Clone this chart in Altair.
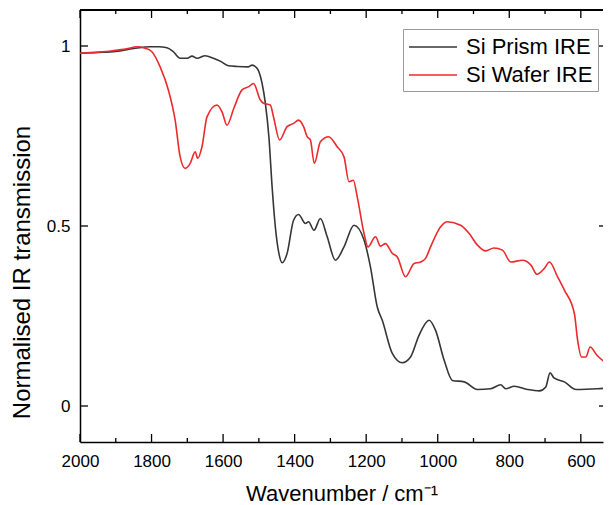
import altair as alt
import pandas as pd

# ---- data ----
prism_wn = [2000, 1950, 1900, 1850, 1804, 1780, 1757, 1740, 1720, 1700, 1687, 1673, 1650, 1627, 1608,
            1585, 1560, 1529, 1519, 1505, 1491, 1482, 1472, 1463, 1454, 1444, 1435, 1421, 1403, 1389,
            1370, 1361, 1346, 1328, 1309, 1286, 1262, 1234, 1206, 1188, 1169, 1155, 1127, 1099, 1076,
            1052, 1024, 1006, 982, 959, 926, 889, 852, 824, 810, 786, 749, 716, 698, 686,
            675, 646, 613, 553, 512]
prism_v = [0.980, 0.982, 0.985, 0.993, 0.998, 0.998, 0.995, 0.985, 0.966, 0.966, 0.972, 0.966, 0.973, 0.966, 0.958,
           0.945, 0.943, 0.942, 0.947, 0.938, 0.896, 0.842, 0.748, 0.609, 0.498, 0.424, 0.398, 0.424, 0.516, 0.532,
           0.507, 0.512, 0.488, 0.521, 0.470, 0.405, 0.442, 0.502, 0.461, 0.386, 0.275, 0.238, 0.146, 0.120, 0.136,
           0.197, 0.238, 0.210, 0.127, 0.071, 0.067, 0.046, 0.048, 0.059, 0.048, 0.055, 0.046, 0.042, 0.053, 0.092,
           0.078, 0.067, 0.046, 0.048, 0.051]

wafer_wn = [2000, 1950, 1907, 1870, 1841, 1818, 1799, 1776, 1753, 1734, 1720, 1706, 1692, 1678, 1671,
            1659, 1645, 1617, 1603, 1589, 1570, 1547, 1528, 1515, 1496, 1487, 1468, 1459, 1442, 1421,
            1403, 1389, 1375, 1365, 1356, 1345, 1328, 1305, 1281, 1262, 1248, 1236, 1225, 1206, 1195,
            1174, 1160, 1146, 1127, 1113, 1090, 1066, 1048, 1034, 1020, 992, 973, 936, 912, 889,
            866, 843, 819, 796, 763, 739, 723, 702, 688, 665, 646, 618, 609, 598, 586,
            574, 555, 536, 512]
wafer_v = [0.980, 0.983, 0.987, 0.992, 0.998, 0.994, 0.984, 0.942, 0.878, 0.794, 0.692, 0.660, 0.674, 0.706, 0.688,
           0.720, 0.803, 0.836, 0.817, 0.780, 0.827, 0.878, 0.887, 0.896, 0.850, 0.841, 0.836, 0.803, 0.739, 0.776,
           0.785, 0.794, 0.776, 0.748, 0.739, 0.674, 0.734, 0.748, 0.720, 0.692, 0.623, 0.627, 0.581, 0.479, 0.442,
           0.470, 0.444, 0.451, 0.424, 0.414, 0.359, 0.396, 0.400, 0.410, 0.442, 0.498, 0.512, 0.502, 0.479, 0.447,
           0.431, 0.439, 0.433, 0.400, 0.405, 0.391, 0.366, 0.382, 0.400, 0.359, 0.322, 0.257, 0.183, 0.136, 0.136,
           0.164, 0.141, 0.124, 0.107]

series_names = ["Si Prism IRE", "Si Wafer IRE"]
series_colors = ["#363636", "#ec2a2d"]

x_major = [2000, 1800, 1600, 1400, 1200, 1000, 800, 600]
x_minor = [1900, 1700, 1500, 1300, 1100, 900, 700]
y_major = [0, 0.5, 1]

x_domain = [538, 2000]
y_domain = [-0.1, 1.1]

W = 523
H = 432
FONT = "Liberation Sans"

df = pd.concat([
    pd.DataFrame({"wn": prism_wn, "val": prism_v, "series": series_names[0]}),
    pd.DataFrame({"wn": wafer_wn, "val": wafer_v, "series": series_names[1]}),
])

xs = alt.Scale(domain=x_domain, reverse=True, nice=False, zero=False)
ys = alt.Scale(domain=y_domain, nice=False, zero=False)

x_axis = alt.Axis(values=x_major, format="d", title="Wavenumber / cm⁻¹",
                  ticks=False, labelPadding=24, labelBaseline="alphabetic",
                  labelFlush=False, grid=False,
                  titleFontSize=22, titleY=58, titleBaseline="alphabetic")
y_axis = alt.Axis(values=y_major, format="~g", title="Normalised IR transmission",
                  ticks=False, labelPadding=10, grid=False,
                  titleFontSize=24, titleX=-51, titleY=262, titleAngle=270,
                  titleBaseline="alphabetic", titleAlign="center")

lines = alt.Chart(df).mark_line(strokeWidth=1.6, clip=True, interpolate="monotone").encode(
    x=alt.X("wn:Q", scale=xs, axis=x_axis),
    y=alt.Y("val:Q", scale=ys, axis=y_axis),
    color=alt.Color("series:N",
                    scale=alt.Scale(domain=series_names, range=series_colors),
                    legend=alt.Legend(title=None, orient="none", legendX=323, legendY=19,
                                      symbolType="M-1,0H3", symbolSize=576,
                                      symbolStrokeWidth=1.5, labelFontSize=22,
                                      labelFont=FONT, labelColor="black",
                                      labelOffset=32, rowPadding=4, padding=5,
                                      strokeColor="#9a9a9a", cornerRadius=0)),
)

xmaj = pd.DataFrame({"wn": x_major})
xmin = pd.DataFrame({"wn": x_minor})
ymaj = pd.DataFrame({"val": y_major})

def xtick(data, y0, y1):
    return alt.Chart(data).mark_rule(color="black", strokeWidth=1.3).encode(
        x=alt.X("wn:Q", scale=xs, axis=x_axis), y=alt.value(y0), y2=alt.value(y1))

def ytick(x0, x1):
    return alt.Chart(ymaj).mark_rule(color="black", strokeWidth=1.3).encode(
        y=alt.Y("val:Q", scale=ys, axis=y_axis), x=alt.value(x0), x2=alt.value(x1))

top_line = alt.Chart(xmaj).mark_rule(color="black", strokeWidth=1.5).encode(
    x=alt.value(0), x2=alt.value(W), y=alt.value(0))

chart = alt.layer(
    lines,
    top_line,
    xtick(xmaj, H, H - 8), xtick(xmin, H, H - 4),
    xtick(xmaj, 0, 8), xtick(xmin, 0, 4),
    ytick(0, 8), ytick(W - 4, W),
).properties(
    width=W, height=H,
    autosize=alt.AutoSizeParams(type="none"),
    padding={"left": 72, "top": 2, "right": 1, "bottom": 63},
).configure_view(stroke=None).configure_axis(
    domainColor="black", domainWidth=1.5,
    labelFont=FONT, labelFontSize=17, labelColor="black",
    titleFont=FONT, titleColor="black", titleFontWeight="normal",
)

chart.save("out.html", embed_options={"renderer": "svg", "actions": False})
